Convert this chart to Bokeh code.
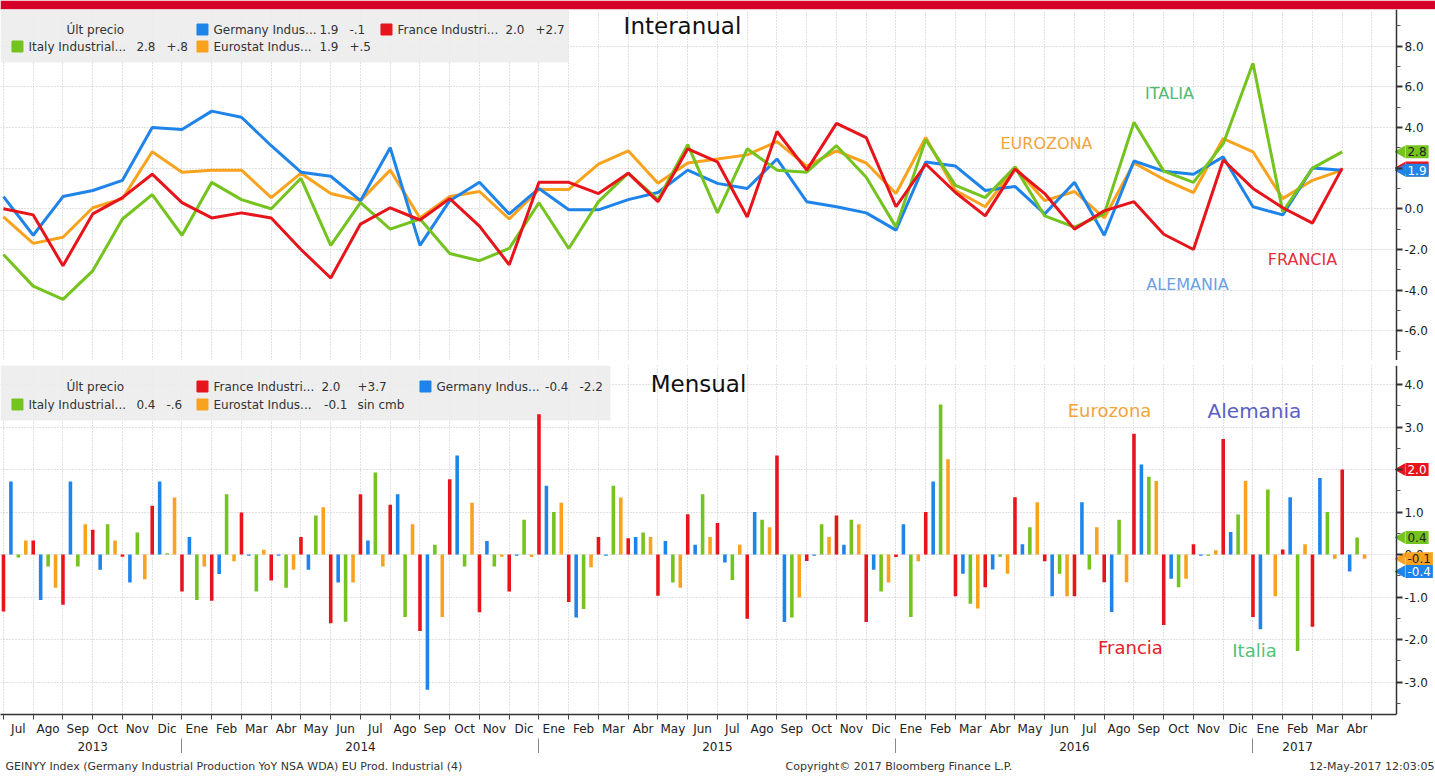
import math
from bokeh.plotting import figure
from bokeh.models import (Range1d, FixedTicker, LinearAxis, NumeralTickFormatter,
                          BoxAnnotation, Label, ColumnDataSource)
from bokeh.layouts import column
from bokeh.embed import file_html
from bokeh.resources import INLINE
from bokeh.core.properties import value

# ---------------- data (monthly, Jun 2013 .. Mar 2017) ----------------
month_labels = (["Jul", "Ago", "Sep", "Oct", "Nov", "Dic"]
                + ["Ene", "Feb", "Mar", "Abr", "May", "Jun", "Jul", "Ago", "Sep", "Oct", "Nov", "Dic"] * 3
                + ["Ene", "Feb", "Mar", "Abr"])
years = ["2013", "2014", "2015", "2016", "2017"]

# Year-on-year (%)
germany_yoy = [0.6, -1.3, 0.6, 0.9, 1.4, 4.0, 3.9, 4.8, 4.5, 3.1, 1.8, 1.6, 0.4, 3.0, -1.8, 0.4, 1.3,
               -0.25, 1.0, -0.05, -0.05, 0.45, 0.8, 1.9, 1.25, 1.0, 2.45, 0.35, 0.1, -0.2, -1.05, 2.3,
               2.1, 0.9, 1.1, -0.25, 1.3, -1.3, 2.35, 1.85, 1.7, 2.55, 0.1, -0.3, 2.0, 1.9]
france_yoy = [0.0, -0.3, -2.8, -0.25, 0.55, 1.7, 0.3, -0.45, -0.2, -0.45, -2.0, -3.4, -0.75, 0.05, -0.55, 0.5, -0.85,
              -2.75, 1.3, 1.3, 0.75, 1.75, 0.35, 2.95, 2.3, -0.4, 3.8, 1.9, 4.2, 3.5, 0.1, 2.2,
              0.8, -0.35, 1.95, 0.75, -1.0, -0.1, 0.35, -1.25, -2.0, 2.4, 1.0, 0.05, -0.7, 2.0]
italy_yoy = [-2.25, -3.8, -4.45, -3.05, -0.5, 0.7, -1.3, 1.3, 0.45, 0.0, 1.5, -1.8, 0.3, -1.0, -0.5, -2.2, -2.55,
             -1.95, 0.3, -1.95, 0.35, 1.75, 0.45, 3.15, -0.2, 2.95, 1.9, 1.8, 3.1, 1.55, -0.9, 3.4,
             1.15, 0.55, 2.05, -0.35, -0.9, -0.25, 4.25, 1.85, 1.3, 3.2, 7.15, -0.15, 2.0, 2.8]
euro_yoy = [-0.4, -1.7, -1.4, 0.05, 0.5, 2.8, 1.8, 1.9, 1.9, 0.55, 1.75, 0.75, 0.4, 1.9, -0.45, 0.6, 0.85,
            -0.5, 0.95, 0.95, 2.2, 2.85, 1.25, 2.25, 2.45, 2.65, 3.3, 2.1, 2.85, 2.25, 0.75, 3.5,
            0.9, 0.1, 2.05, 0.4, 0.85, -0.45, 2.25, 1.45, 0.8, 3.45, 2.8, 0.5, 1.4, 1.9]

# Month-on-month (%)
france_mom = [-1.34, 0.33, -1.18, 0.58, -0.05, 1.15, -0.87, -1.09, 0.99, -0.61, 0.41, -1.62, 1.42, 1.17, -1.8, 1.77,
              -1.36, -0.87, 3.3, -1.12, 0.41, 0.38, -0.97, 0.95, 0.74, -1.51, 2.33, -0.15, 0.92, -1.59, -0.06, 1.0,
              -0.98, -0.77, 1.35, -0.16, -0.98, -0.65, 2.84, -1.66, 0.24, 2.72, -1.47, 0.12, -1.7, 2.0]
germany_mom = [1.72, -1.07, 1.72, -0.36, -0.66, 1.72, 0.41, -0.46, -0.03, -0.03, -0.36, -0.66, 0.33, 1.42, -3.18, 2.33,
               0.32, -0.03, 1.62, -1.48, -0.03, 0.41, 0.32, 0.23, -0.19, 1.0, -1.59, -0.03, 0.23, -0.36, 0.71, 1.72,
               -0.45, -0.35, 0.24, -0.98, 1.23, -1.35, 2.12, -0.57, -0.03, 0.53, -1.76, 1.35, 1.8, -0.4]
italy_mom = [-0.07, -0.28, -0.28, 0.71, 0.52, 0.03, -1.07, 1.42, -0.87, -0.78, 0.92, -1.58, 1.93, -1.47, 0.23, -0.28,
             -0.28, 0.82, 1.0, -1.28, 1.62, 0.52, -0.66, 1.42, -0.6, 0.82, -1.48, 0.71, 0.82, -0.87, -1.47, 3.53,
             -1.16, -0.05, 0.64, -0.45, -0.35, 0.82, 1.83, -0.77, -0.03, 0.94, 1.53, -2.27, 1.0, 0.4]
euro_mom = [0.33, -0.78, 0.71, 0.33, -0.58, 1.34, -0.28, -0.16, 0.11, -0.36, 1.11, -0.66, -0.28, 0.71, -1.47, 1.22,
            -0.05, -0.06, 1.22, -0.3, 1.34, 0.41, -0.78, 0.41, 0.23, 0.64, -1.01, 0.41, 0.71, -0.66, -0.16, 2.24,
            -1.27, -0.45, 1.23, -0.98, 0.64, -0.65, 1.73, -0.57, 0.1, 1.73, -0.98, 0.24, -0.1, -0.1]

series_names = ["Germany Indus...", "France Industri...", "Italy Industrial...", "Eurostat Indus..."]

# ---------------- style / layout ----------------
BLUE, RED, GREEN, ORANGE = "#1e84ea", "#e8141c", "#74c31e", "#f8a21e"
FONT = "DejaVu Sans"
GRID = "#c2c2c2"
W = 1435
PXM = 29.75                 # pixels per month
X0 = -0.1
X_END = X0 + W / PXM        # frame spans the full width
X1 = (1396 - 3) / PXM       # position of the value axis
xr = Range1d(X0, X_END)
xs = list(range(len(germany_yoy)))


def dx(px):            # reference pixel -> month index (layout helper)
    return (px - 3) / PXM


def dyt(py):
    return (208.3 - py) / 20.35


def dyb(py):
    return (554 - py) / 42.5


def chg(a, b):
    d = round(a - b, 1)
    if d == 0:
        return "sin cmb"
    s = f"{d:+.1f}"
    if abs(d) < 1:
        s = s.replace("0.", ".")
    return s


def style_panel(p, ticks, minor):
    ax = p.yaxis[0]
    ax.fixed_location = X1
    ax.ticker = FixedTicker(ticks=ticks, minor_ticks=minor)
    ax.formatter = NumeralTickFormatter(format="0.0")
    ax.major_label_text_font = FONT
    ax.major_label_text_font_size = "12px"
    ax.major_label_text_color = "#222222"
    ax.major_tick_out = 6
    ax.major_tick_in = 0
    ax.major_tick_line_width = 2
    ax.major_tick_line_color = "#333333"
    ax.minor_tick_out = 4
    ax.minor_tick_in = 0
    ax.minor_tick_line_color = "#555555"
    ax.axis_line_color = "#333333"
    ax.axis_line_width = 1.5
    ax.major_label_standoff = 2
    p.xgrid.ticker = FixedTicker(ticks=list(range(0, len(month_labels) + 1)))
    for g in (p.xgrid, p.ygrid):
        g.grid_line_color = GRID
        g.grid_line_dash = "1 2"
        g.grid_line_width = 1
    # plain white area to the right of the value axis
    p.add_layout(BoxAnnotation(left=X1, fill_color="white", fill_alpha=1.0, line_color=None, level="underlay"))


def add_legend(p, conv, right_px, bottom_px, top_val, items, header_py):
    p.add_layout(BoxAnnotation(left=X0, right=dx(right_px), top=top_val, bottom=conv(bottom_px),
                               fill_color="#ececec", fill_alpha=0.9, line_color=None, level="underlay"))
    p.text(x=[dx(66)], y=[conv(header_py)], text=["Últ precio"], text_font=value(FONT),
           text_font_size="12px", text_color="#333333", text_baseline="middle")
    sq = dict(x=[], y=[], c=[])
    nm = dict(x=[], y=[], t=[])
    vl = dict(x=[], y=[], t=[])
    ch = dict(x=[], y=[], t=[])
    for (sq_px, val_px, chg_px, row_py, color, name, v, c) in items:
        yy = conv(row_py)
        sq["x"].append(dx(sq_px + 5)); sq["y"].append(yy); sq["c"].append(color)
        nm["x"].append(dx(sq_px + 16)); nm["y"].append(yy); nm["t"].append(name)
        vl["x"].append(dx(val_px)); vl["y"].append(yy); vl["t"].append(v)
        ch["x"].append(dx(chg_px)); ch["y"].append(yy); ch["t"].append(c)
    p.scatter(x="x", y="y", color="c", marker="square", size=11, source=ColumnDataSource(sq))
    common = dict(text_font=value(FONT), text_font_size="12px", text_color="#333333", text_baseline="middle")
    p.text(x="x", y="y", text="t", source=ColumnDataSource(nm), text_align="left", **common)
    p.text(x="x", y="y", text="t", source=ColumnDataSource(vl), text_align="right", **common)
    p.text(x="x", y="y", text="t", source=ColumnDataSource(ch), text_align="left", **common)


def add_tags(p, tags):
    # last-value tags on the value axis: a small arrow head plus a filled label
    for v, color, tc in tags:
        p.scatter(x=[X1 + 5 / PXM], y=[v], marker="triangle", angle=math.pi / 2, size=11,
                  fill_color=color, line_color=color)
        p.add_layout(Label(x=X1, y=v, x_offset=9, text=f"{v:.1f}", text_font=FONT, text_font_size="12px",
                           text_color=tc, text_baseline="middle", text_align="left",
                           background_fill_color=color, padding=2))


def strip(color, h):
    f = figure(width=W, height=h, output_backend="svg", toolbar_location=None,
               x_axis_location=None, y_axis_location=None, min_border=0,
               outline_line_color=None, background_fill_color=color, border_fill_color=color,
               x_range=Range1d(0, 1), y_range=Range1d(0, 1))
    f.xgrid.visible = False
    f.ygrid.visible = False
    return f


# ---------------- top panel: Interanual (red band = top border) ----------------
top = figure(frame_width=W, frame_height=351, x_range=xr, y_range=Range1d(dyt(360), dyt(9)),
             output_backend="svg", toolbar_location=None, x_axis_location=None, y_axis_location="right",
             min_border_left=0, min_border_right=0, min_border_top=9, min_border_bottom=0,
             outline_line_color=None, border_fill_color="#d4002a", background_fill_color="white")
style_panel(top, [-6, -4, -2, 0, 2, 4, 6, 8], [-7, -5, -3, -1, 1, 3, 5, 7, 9])

for ys, col in ((euro_yoy, ORANGE), (germany_yoy, BLUE), (italy_yoy, GREEN), (france_yoy, RED)):
    top.line(xs, ys, line_color=col, line_width=3)

add_legend(top, dyt, 568, 62, dyt(9), [
    (197, 338, 349, 29, BLUE, series_names[0], f"{germany_yoy[-1]:.1f}", chg(germany_yoy[-1], germany_yoy[-2])),
    (381, 524, 535, 29, RED, series_names[1], f"{france_yoy[-1]:.1f}", chg(france_yoy[-1], france_yoy[-2])),
    (12, 155, 166, 46, GREEN, series_names[2], f"{italy_yoy[-1]:.1f}", chg(italy_yoy[-1], italy_yoy[-2])),
    (197, 338, 349, 46, ORANGE, series_names[3], f"{euro_yoy[-1]:.1f}", chg(euro_yoy[-1], euro_yoy[-2])),
], 29)

top.text(x=[dx(682)], y=[dyt(25)], text=["Interanual"], text_font=value(FONT), text_font_size="23px",
         text_color="#111111", text_align="center", text_baseline="middle")
top.text(x=[dx(1169), dx(1046), dx(1187), dx(1302)], y=[dyt(93), dyt(143), dyt(284), dyt(259)],
         text=["ITALIA", "EUROZONA", "ALEMANIA", "FRANCIA"],
         text_color=["#4fba6e", "#f2a43c", "#6d9fe6", "#e2303a"],
         text_font=value(FONT), text_font_size="16px", text_align="center", text_baseline="middle")

add_tags(top, [(italy_yoy[-1], GREEN, "#222222"), (euro_yoy[-1], ORANGE, "#222222"),
               (france_yoy[-1], RED, "white"), (germany_yoy[-1], BLUE, "white")])

# ---------------- bottom panel: Mensual ----------------
bot = figure(frame_width=W, frame_height=349, x_range=xr, y_range=Range1d(dyb(714), dyb(365)),
             output_backend="svg", toolbar_location=None, y_axis_location="right",
             min_border_left=0, min_border_right=0, min_border_top=0, min_border_bottom=0,
             outline_line_color=None)
style_panel(bot, [-3, -2, -1, 0, 1, 2, 3, 4], [-3.5, -2.5, -1.5, -0.5, 0.5, 1.5, 2.5, 3.5])

bw = 0.12
for k, (vals, col) in enumerate(((france_mom, RED), (germany_mom, BLUE), (italy_mom, GREEN), (euro_mom, ORANGE))):
    bot.vbar(x=[i + 0.25 * k for i in xs], top=vals, bottom=0, width=bw, fill_color=col, line_color=None)

add_legend(bot, dyb, 610, 420, dyb(365), [
    (197, 340, 357, 386, RED, series_names[1], f"{france_mom[-1]:.1f}", chg(france_mom[-1], france_mom[-2])),
    (420, 568, 579, 386, BLUE, series_names[0], f"{germany_mom[-1]:.1f}", chg(germany_mom[-1], germany_mom[-2])),
    (12, 155, 166, 404, GREEN, series_names[2], f"{italy_mom[-1]:.1f}", chg(italy_mom[-1], italy_mom[-2])),
    (197, 347, 357, 404, ORANGE, series_names[3], f"{euro_mom[-1]:.1f}", chg(euro_mom[-1], euro_mom[-2])),
], 386)

bot.text(x=[dx(698)], y=[dyb(383)], text=["Mensual"], text_font=value(FONT), text_font_size="23px",
         text_color="#111111", text_align="center", text_baseline="middle")
bot.text(x=[dx(1109), dx(1254), dx(1130), dx(1254)], y=[dyb(410), dyb(410), dyb(647), dyb(650)],
         text=["Eurozona", "Alemania", "Francia", "Italia"],
         text_color=["#f2a43c", "#5a5ec6", "#e2202a", "#52c275"],
         text_font_size=["18px", "20px", "18px", "18px"],
         text_font=value(FONT), text_align="center", text_baseline="middle")

add_tags(bot, [(france_mom[-1], RED, "white"), (euro_mom[-1], ORANGE, "#222222"),
               (italy_mom[-1], GREEN, "#222222"), (germany_mom[-1], BLUE, "white")])

# month axis
mx = bot.xaxis[0]
mx.bounds = (X0, X1)
mx.ticker = FixedTicker(ticks=[i + 0.5 for i in range(len(month_labels))],
                        minor_ticks=list(range(0, len(month_labels) + 1)))
mx.major_label_overrides = {i + 0.5: m for i, m in enumerate(month_labels)}
mx.major_tick_out = 0
mx.major_tick_in = 0
mx.minor_tick_out = 5
mx.minor_tick_in = 0
mx.minor_tick_line_color = "#444444"
mx.axis_line_color = "#333333"
mx.axis_line_width = 1.5
mx.major_label_standoff = 2
mx.major_label_text_font = FONT
mx.major_label_text_font_size = "12px"
mx.major_label_text_color = "#222222"

# year axis
starts = [i for i, m in enumerate(month_labels) if m == "Ene"]
bounds = [0] + starts + [len(xs) - 1]
year_pos = [(bounds[j] + bounds[j + 1]) / 2 for j in range(len(years))]
ya = LinearAxis(ticker=FixedTicker(ticks=year_pos, minor_ticks=starts),
                major_label_overrides={p: y for p, y in zip(year_pos, years)},
                bounds=(X0, X1),
                axis_line_color=None, major_tick_out=0, major_tick_in=0,
                minor_tick_out=17, minor_tick_in=0, minor_tick_line_color="#888888",
                major_label_standoff=-14, major_label_text_font=FONT,
                major_label_text_font_size="12px", major_label_text_color="#222222")
bot.add_layout(ya, "below")

# ---------------- separator and footer ----------------
sep = strip("#7d7d7d", 5)

FH = 22
foot = figure(width=W, height=FH, output_backend="svg", toolbar_location=None,
              x_axis_location=None, y_axis_location=None, min_border=0, outline_line_color=None,
              x_range=Range1d(0, W), y_range=Range1d(0, FH))
foot.xgrid.visible = False
foot.ygrid.visible = False
fcommon = dict(text_font=value(FONT), text_font_size="11px", text_color="#333333", text_baseline="middle")
foot.text(x=[5], y=[FH - 13], text=["GEINYY Index (Germany Industrial Production YoY NSA WDA) EU Prod. Industrial (4)"],
          text_align="left", **fcommon)
foot.text(x=[785], y=[FH - 13], text=["Copyright© 2017 Bloomberg Finance L.P."], text_align="left", **fcommon)
foot.text(x=[W - 1], y=[FH - 13], text=["12-May-2017 12:03:05"], text_align="right", **fcommon)

layout = column(top, sep, bot, foot, spacing=0)
open("out.html", "w").write(file_html(layout, INLINE))
